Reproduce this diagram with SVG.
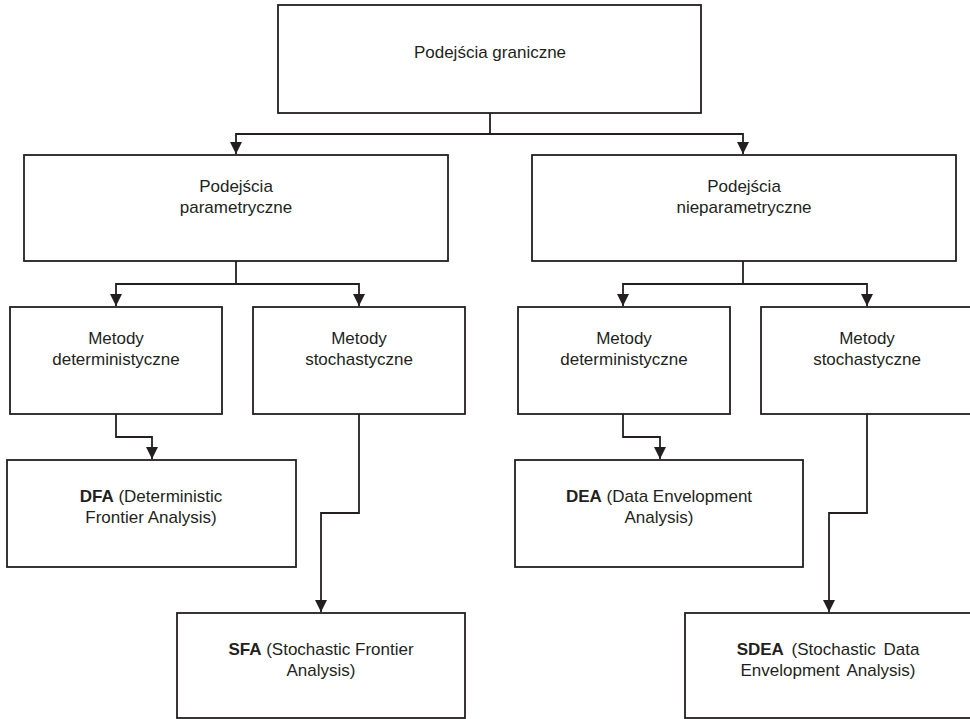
<svg xmlns="http://www.w3.org/2000/svg" width="970" height="719" viewBox="0 0 970 719">
<style>
  .box { fill: #ffffff; stroke: #231f20; stroke-width: 1.8; }
  .lbl { font-family: "Liberation Sans", Arial, sans-serif; font-size: 17px; fill: #231f20; text-anchor: middle; }
  .b { font-weight: bold; }
  .con { fill: none; stroke: #231f20; stroke-width: 1.8; }
</style>
<defs>
  <marker id="arr" markerUnits="userSpaceOnUse" markerWidth="12" markerHeight="12" viewBox="0 0 12 12" refX="12" refY="6" orient="auto">
    <path d="M0,0 L12,6 L0,12 z" fill="#231f20"/>
  </marker>
</defs>
<rect width="970" height="719" fill="#ffffff"/>

<g id="connectors">
  <path class="con" d="M490,113 V134 H236 V154" marker-end="url(#arr)"/>
  <path class="con" d="M490,134 H743 V154" marker-end="url(#arr)"/>
  <path class="con" d="M236,261 V284 H116 V306" marker-end="url(#arr)"/>
  <path class="con" d="M236,284 H359 V306" marker-end="url(#arr)"/>
  <path class="con" d="M743,261 V284 H623 V306" marker-end="url(#arr)"/>
  <path class="con" d="M743,284 H867 V306" marker-end="url(#arr)"/>
  <path class="con" d="M116,414 V437 H152 V459" marker-end="url(#arr)"/>
  <path class="con" d="M359,414 V513 H321 V612" marker-end="url(#arr)"/>
  <path class="con" d="M623,414 V437 H660 V459" marker-end="url(#arr)"/>
  <path class="con" d="M867,414 V513 H829 V612" marker-end="url(#arr)"/>
</g>

<g id="podejscia-graniczne">
  <rect class="box" x="278" y="5" width="423" height="108"/>
  <text class="lbl" x="490" y="58">Podejścia graniczne</text>
</g>

<g id="podejscia-parametryczne">
  <rect class="box" x="24" y="155" width="424" height="106"/>
  <text class="lbl" x="236" y="192">Podejścia</text>
  <text class="lbl" x="236" y="213">parametryczne</text>
</g>

<g id="podejscia-nieparametryczne">
  <rect class="box" x="532" y="155" width="424" height="106"/>
  <text class="lbl" x="744" y="192">Podejścia</text>
  <text class="lbl" x="744" y="213">nieparametryczne</text>
</g>

<g id="metody-det-param">
  <rect class="box" x="10" y="307" width="212" height="107"/>
  <text class="lbl" x="116" y="344">Metody</text>
  <text class="lbl" x="116" y="365">deterministyczne</text>
</g>

<g id="metody-stoch-param">
  <rect class="box" x="253" y="307" width="212" height="107"/>
  <text class="lbl" x="359" y="344">Metody</text>
  <text class="lbl" x="359" y="365">stochastyczne</text>
</g>

<g id="metody-det-nieparam">
  <rect class="box" x="518" y="307" width="212" height="107"/>
  <text class="lbl" x="624" y="344">Metody</text>
  <text class="lbl" x="624" y="365">deterministyczne</text>
</g>

<g id="metody-stoch-nieparam">
  <rect class="box" x="761" y="307" width="212" height="107"/>
  <text class="lbl" x="867" y="344">Metody</text>
  <text class="lbl" x="867" y="365">stochastyczne</text>
</g>

<g id="dfa">
  <rect class="box" x="7" y="460" width="289" height="107"/>
  <text class="lbl" x="151" y="502"><tspan class="b">DFA</tspan> (Deterministic</text>
  <text class="lbl" x="151" y="523">Frontier Analysis)</text>
</g>

<g id="dea">
  <rect class="box" x="515" y="460" width="288" height="107"/>
  <text class="lbl" x="659" y="502"><tspan class="b">DEA</tspan> (Data Envelopment</text>
  <text class="lbl" x="659" y="523">Analysis)</text>
</g>

<g id="sfa">
  <rect class="box" x="177" y="613" width="288" height="105"/>
  <text class="lbl" x="321" y="655"><tspan class="b">SFA</tspan> (Stochastic Frontier</text>
  <text class="lbl" x="321" y="676">Analysis)</text>
</g>

<g id="sdea">
  <rect class="box" x="685" y="613" width="288" height="105"/>
  <text class="lbl" x="828" y="655" word-spacing="3"><tspan class="b">SDEA</tspan> (Stochastic Data</text>
  <text class="lbl" x="828" y="676" word-spacing="3">Envelopment Analysis)</text>
</g>
</svg>
